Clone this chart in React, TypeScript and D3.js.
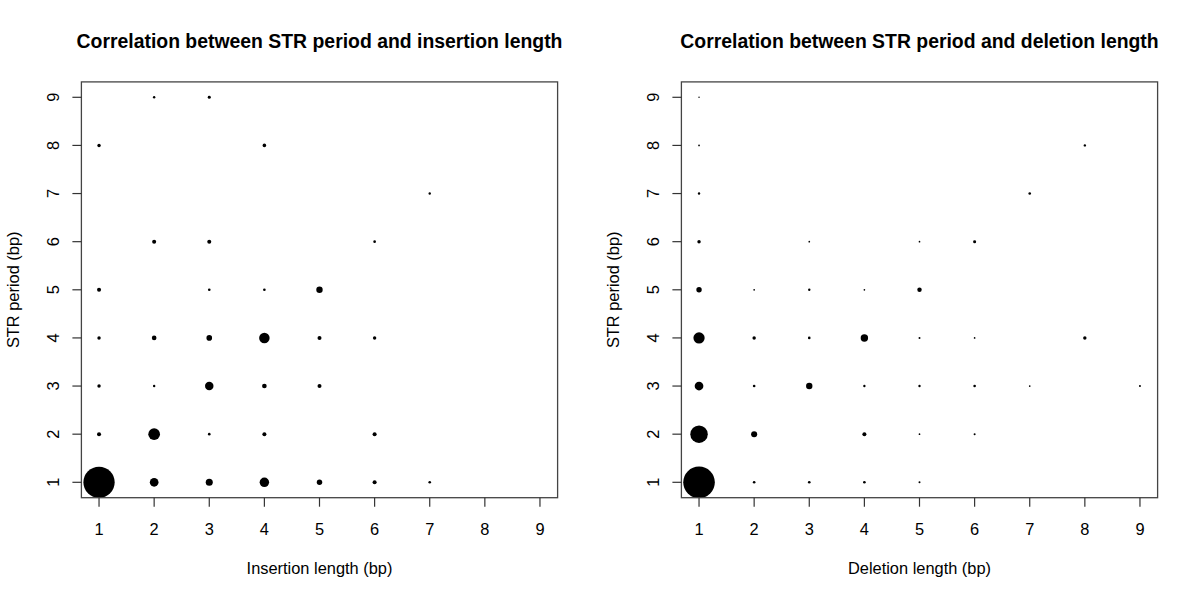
import React from "react";
import * as d3 from "d3";

// Tick values (both axes, both panels)
const ticks = [1, 2, 3, 4, 5, 6, 7, 8, 9];

// Insertion panel: [insertion length, STR period, count]
const insertionLength = [1, 2, 3, 4, 5, 6, 7, 1, 2, 3, 4, 6, 1, 2, 3, 4, 5, 1, 2, 3, 4, 5, 6, 1, 3, 4, 5, 2, 3, 6, 7, 1, 4, 2, 3];
const insertionPeriod = [1, 1, 1, 1, 1, 1, 1, 2, 2, 2, 2, 2, 3, 3, 3, 3, 3, 4, 4, 4, 4, 4, 4, 5, 5, 5, 5, 6, 6, 6, 7, 8, 8, 9, 9];
const insertionCount = [2400, 185, 122, 220, 72, 40, 17, 40, 336, 17, 40, 40, 29, 14, 176, 53, 40, 29, 53, 78, 270, 40, 29, 40, 17, 17, 100, 40, 40, 17, 14, 29, 32, 14, 22];

// Deletion panel: [deletion length, STR period, count]
const deletionLength = [1, 2, 3, 4, 5, 1, 2, 4, 5, 6, 1, 2, 3, 4, 5, 6, 7, 9, 1, 2, 3, 4, 5, 6, 8, 1, 2, 3, 4, 5, 1, 3, 5, 6, 1, 7, 1, 8, 1];
const deletionPeriod = [1, 1, 1, 1, 1, 2, 2, 2, 2, 2, 3, 3, 3, 3, 3, 3, 3, 3, 4, 4, 4, 4, 4, 4, 4, 5, 5, 5, 5, 5, 6, 6, 6, 6, 7, 7, 8, 8, 9];
const deletionCount = [2450, 17, 17, 17, 10, 750, 90, 40, 7, 10, 185, 17, 100, 14, 14, 17, 7, 10, 310, 29, 17, 135, 10, 7, 29, 72, 7, 14, 7, 48, 29, 7, 7, 22, 14, 17, 7, 14, 5];

const titles = ["Correlation between STR period and insertion length", "Correlation between STR period and deletion length"];
const xTitles = ["Insertion length (bp)", "Deletion length (bp)"];
const yTitle = "STR period (bp)";

const FONT = "'Liberation Sans', Arial, Helvetica, sans-serif";
const AXIS_FS = 16.4;

type PanelProps = {
  offsetX: number;
  title: string;
  xTitle: string;
  xs: number[];
  ys: number[];
  counts: number[];
  rScale: d3.ScalePower<number, number>;
};

function Panel({ offsetX, title, xTitle, xs, ys, counts, rScale }: PanelProps) {
  const left = 81.4 + offsetX;
  const right = 557.6 + offsetX;
  const top = 81.9;
  const bottom = 497.7;
  const x = d3.scaleLinear().domain([0.68, 9.32]).range([left, right]);
  const y = d3.scaleLinear().domain([0.68, 9.32]).range([bottom, top]);
  const tickLen = 9;
  const cx = (left + right) / 2;
  const cy = (top + bottom) / 2;
  return (
    <g>
      <text x={cx} y={47.5} textAnchor="middle" fontFamily={FONT} fontWeight="bold" fontSize={19.4} fill="#000">
        {title}
      </text>
      {xs.map((v, i) => (
        <circle key={i} cx={x(v)} cy={y(ys[i])} r={rScale(counts[i])} fill="#000" />
      ))}
      <rect x={left} y={top} width={right - left} height={bottom - top} fill="none" stroke="#444" strokeWidth={1.3} />
      {ticks.map((t) => (
        <g key={"x" + t}>
          <line x1={x(t)} x2={x(t)} y1={bottom} y2={bottom + tickLen} stroke="#333" strokeWidth={1.2} />
          <text x={x(t)} y={535} textAnchor="middle" fontFamily={FONT} fontSize={AXIS_FS} fill="#000">
            {t}
          </text>
        </g>
      ))}
      {ticks.map((t) => (
        <g key={"y" + t}>
          <line x1={left} x2={left - tickLen} y1={y(t)} y2={y(t)} stroke="#333" strokeWidth={1.2} />
          <text
            transform={`translate(${offsetX + 58.5},${y(t)}) rotate(-90)`}
            textAnchor="middle"
            fontFamily={FONT}
            fontSize={AXIS_FS}
            fill="#000"
          >
            {t}
          </text>
        </g>
      ))}
      <text x={cx} y={574} textAnchor="middle" fontFamily={FONT} fontSize={AXIS_FS} fill="#000">
        {xTitle}
      </text>
      <text
        transform={`translate(${offsetX + 18.5},${cy}) rotate(-90)`}
        textAnchor="middle"
        fontFamily={FONT}
        fontSize={AXIS_FS}
        fill="#000"
      >
        {yTitle}
      </text>
    </g>
  );
}

export default function App() {
  const maxCount = Math.max(d3.max(insertionCount) ?? 1, d3.max(deletionCount) ?? 1);
  const rScale = d3.scaleSqrt().domain([0, maxCount]).range([0, 15.8]);
  return (
    <svg
      width={1200}
      height={600}
      style={{ position: "absolute", left: 0, top: 0, background: "#fff" }}
    >
      <rect x={0} y={0} width={1200} height={600} fill="#fff" />
      <Panel
        offsetX={0}
        title={titles[0]}
        xTitle={xTitles[0]}
        xs={insertionLength}
        ys={insertionPeriod}
        counts={insertionCount}
        rScale={rScale}
      />
      <Panel
        offsetX={600}
        title={titles[1]}
        xTitle={xTitles[1]}
        xs={deletionLength}
        ys={deletionPeriod}
        counts={deletionCount}
        rScale={rScale}
      />
    </svg>
  );
}
